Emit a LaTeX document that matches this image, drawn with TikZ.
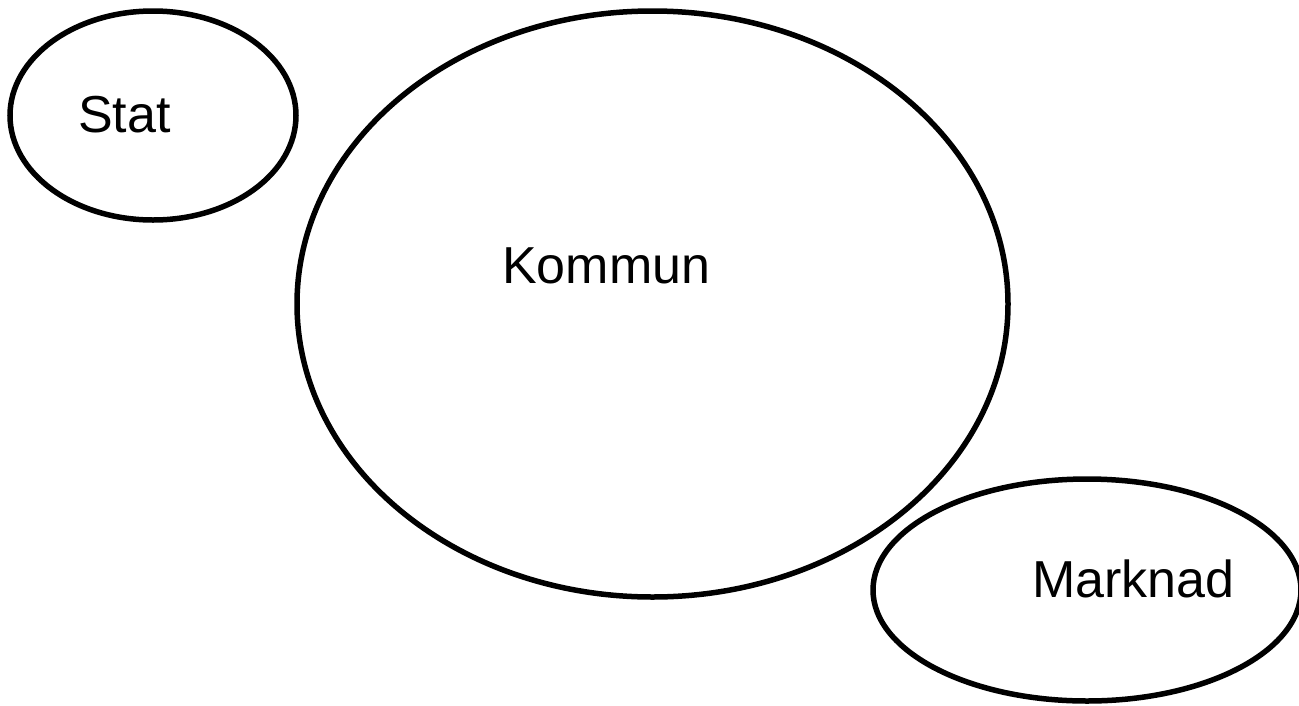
\documentclass[tikz,border=0pt]{standalone}
\usepackage{fontspec}
\setmainfont{Liberation Sans}
\usetikzlibrary{shapes.geometric}
\begin{document}
\begin{tikzpicture}[x=1pt,y=-1pt,
  oval/.style={draw=black,line width=5.5pt,ellipse,inner sep=0pt,outer sep=0pt},
  lbl/.style={inner sep=0pt,anchor=base west,font=\fontsize{52}{62}\selectfont}]
\useasboundingbox (0,0) rectangle (1299,705);
\fill[white] (0,0) rectangle (1299,705);
\node[oval,minimum width=286pt,minimum height=209pt] (stat) at (153,115.5) {};
\node[oval,minimum width=711pt,minimum height=586pt] (kommun) at (652.5,304) {};
\node[oval,minimum width=428pt,minimum height=222pt] (marknad) at (1087,590) {};
\node[lbl] (tstat) at (78,132) {Stat};
\node[lbl] (tkommun) at (502,283) {Kommun};
\node[lbl] (tmarknad) at (1032,597) {Marknad};
\end{tikzpicture}
\end{document}
